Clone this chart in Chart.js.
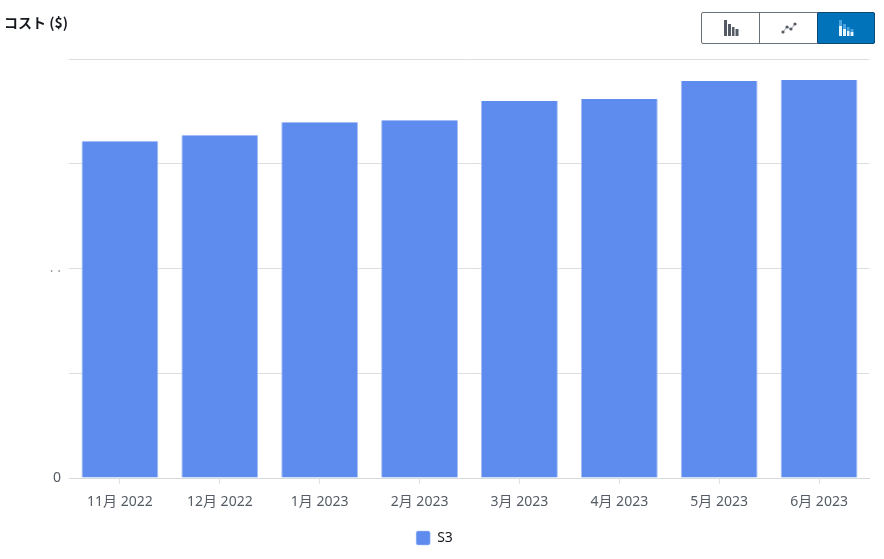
<!DOCTYPE html>
<html>
<head>
<meta charset="utf-8">
<script src="https://cdn.jsdelivr.net/npm/chart.js@4"></script>
<style>
    html, body { margin: 0; padding: 0; background: #fff; }
    #wrap { position: relative; width: 884px; height: 559px; overflow: hidden; }
    #myChart { position: absolute; left: 0; top: 0; }
    #yTitle {
        position: absolute; left: 4px; top: 12px;
        font: bold 14px "Noto Sans CJK JP", "Noto Sans", sans-serif; color: #16191f;
    }
    #modes {
        position: absolute; left: 701px; top: 12px; width: 174px; height: 32px;
        display: flex; box-sizing: border-box; border: 1px solid #687078; border-radius: 2px;
    }
    #modes div { flex: none; box-sizing: border-box; width: 58px; display: flex; align-items: center; justify-content: center; }
    #modes div:first-child { width: 57px; }
    #modes div + div { border-left: 1px solid #687078; }
    #modes .on { background: #0073bb; border: 1px solid #0a4a74; margin: -1px -1px -1px 0; border-radius: 2px; }
</style>
</head>
<body>
<div id="wrap">
    <canvas id="myChart" width="884" height="559"></canvas>
    <div id="yTitle">コスト ($)</div>
    <div id="modes">
        <div>
            <svg width="16" height="16" viewBox="0 0 16 16" fill="#545b64">
                <rect x="1" y="0" width="3" height="16"/><rect x="5" y="4" width="3" height="12"/>
                <rect x="9" y="7" width="2.5" height="9"/><rect x="12.5" y="9" width="3" height="7"/>
            </svg>
        </div>
        <div>
            <svg width="16" height="12" viewBox="0 0 16 12" fill="#545b64">
                <circle cx="2" cy="10" r="1.6"/><circle cx="6" cy="5" r="1.6"/>
                <circle cx="10" cy="7" r="1.6"/><circle cx="14" cy="2" r="1.6"/>
                <path d="M2 10L6 5L10 7L14 2" stroke="#545b64" stroke-width="0.6" fill="none"/>
            </svg>
        </div>
        <div class="on">
            <svg width="16" height="16" viewBox="0 0 16 16">
                <rect x="1" y="0" width="3" height="6" fill="#4aa3df"/><rect x="1" y="6" width="3" height="10" fill="#e6f4fc"/>
                <rect x="5" y="4" width="3" height="5" fill="#4aa3df"/><rect x="5" y="9" width="3" height="7" fill="#e6f4fc"/>
                <rect x="9" y="7" width="2.5" height="4" fill="#4aa3df"/><rect x="9" y="11" width="2.5" height="5" fill="#e6f4fc"/>
                <rect x="12.5" y="9" width="3" height="3" fill="#4aa3df"/><rect x="12.5" y="12" width="3" height="4" fill="#e6f4fc"/>
            </svg>
        </div>
    </div>
</div>
<script>
const categories = ['11月 2022', '12月 2022', '1月 2023', '2月 2023', '3月 2023', '4月 2023', '5月 2023', '6月 2023'];
const s3Values = [321.5, 327.3, 339.7, 341.6, 359.8, 361.7, 379, 380];
const yTicks = { 0: '0', 200: '. .' };

const fontFamily = '"Noto Sans", "Noto Sans CJK JP", sans-serif';

new Chart(document.getElementById('myChart'), {
    type: 'bar',
    data: {
        labels: categories,
        datasets: [{
            label: 'S3',
            data: s3Values,
            backgroundColor: '#5d8bee',
            borderColor: '#a9c1f5',
            borderWidth: { left: 1, right: 1, top: 0, bottom: 0 },
            barPercentage: 0.77,
            categoryPercentage: 1
        }]
    },
    options: {
        responsive: false,
        animation: false,
        layout: { padding: { top: 59, right: 15, bottom: 4, left: 0 } },
        plugins: {
            tooltip: { enabled: false },
            legend: {
                position: 'bottom',
                labels: {
                    boxWidth: 14,
                    boxHeight: 14,
                    useBorderRadius: true,
                    borderRadius: 2,
                    padding: 10,
                    color: '#16191f',
                    font: { family: fontFamily, size: 14 }
                }
            }
        },
        scales: {
            x: {
                afterFit: function (axis) { axis.height = 43; },
                border: { color: '#d5dbdb', width: 1 },
                grid: { offset: false, drawOnChartArea: false, drawTicks: true, tickLength: 6, color: '#dfe3e3' },
                ticks: { color: '#545b64', padding: 10, maxRotation: 0, font: { family: fontFamily, size: 14 } }
            },
            y: {
                min: 0,
                max: 400,
                afterFit: function (axis) { axis.width = 70; },
                border: { display: false },
                grid: { color: '#dcdfdf', tickLength: 1 },
                ticks: {
                    stepSize: 100,
                    color: function (c) { return c.tick.value === 0 ? '#545b64' : '#9aa0a6'; },
                    padding: 8,
                    font: { family: fontFamily, size: 14 },
                    callback: function (v) { return yTicks[v] || ''; }
                }
            }
        }
    }
});
</script>
</body>
</html>
